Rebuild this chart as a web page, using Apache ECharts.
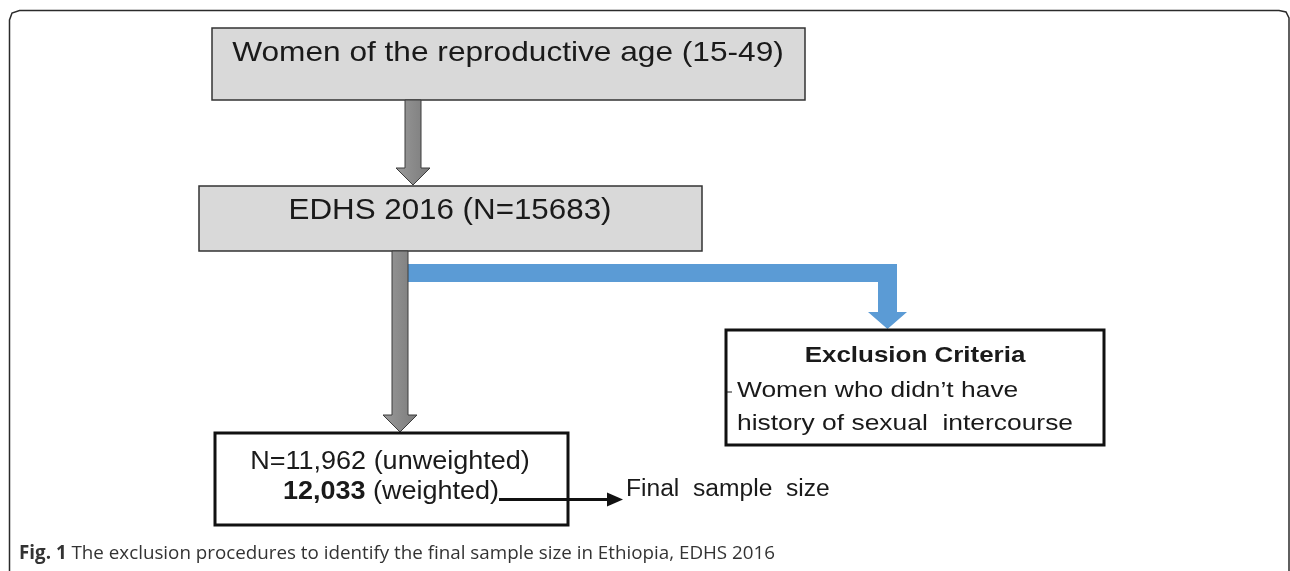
<!DOCTYPE html>
<html>
<head>
<meta charset="utf-8">
<script src="https://cdn.jsdelivr.net/npm/echarts@6/dist/echarts.min.js"></script>
<style>
  html, body { margin: 0; padding: 0; background: #fff; }
  #chart { width: 1290px; height: 571px; }
</style>
</head>
<body>
<div id="chart"></div>
<script>
// flow steps (top to bottom)
var stepLabels = ["Women of the reproductive age (15-49)", "EDHS 2016 (N=15683)"];
var exclusionTitle = "Exclusion Criteria";
var exclusionLines = ["Women who didn\u2019t have", "history of sexual  intercourse"];
var finalCounts = ["N=11,962", "12,033"];
var finalNotes = ["(unweighted)", "(weighted)"];
var finalLabel = "Final  sample  size";
var captionBold = "Fig. 1";
var captionText = " The exclusion procedures to identify the final sample size in Ethiopia, EDHS 2016";

var FONT = "'Liberation Sans', Arial, sans-serif";
var INK = "#1a1a1a";

// block arrow pointing down: centre x, top, tip
function downArrow(cx, top, tip, shaftHalf, headHalf, headLen) {
  var hs = tip - headLen;
  return [
    [cx - shaftHalf, top], [cx + shaftHalf, top], [cx + shaftHalf, hs],
    [cx + headHalf, hs], [cx, tip], [cx - headHalf, hs], [cx - shaftHalf, hs]
  ];
}

function txt(x, y, text, size, sx, extra) {
  var el = {
    type: "text",
    x: x,
    y: y,
    scaleX: sx,
    style: {
      text: text,
      font: (extra && extra.weight ? extra.weight + " " : "") + size + "px " + FONT,
      fill: INK,
      align: (extra && extra.align) || "center",
      textAlign: (extra && extra.align) || "center",
      verticalAlign: "middle",
      textVerticalAlign: "middle"
    }
  };
  if (extra && extra.rich) el.style.rich = extra.rich;
  return el;
}

var grayArrow = {
  fill: new echarts.graphic.LinearGradient(0, 0, 1, 0, [
    { offset: 0, color: "#9a9a9a" },
    { offset: 1, color: "#7a7a7a" }
  ]),
  stroke: "#3c3c3c",
  lineWidth: 1
};

var elements = [];

// outer frame, open at the bottom
elements.push({
  type: "polyline",
  shape: {
    points: [[9.5, 571], [9.5, 20], [12, 13], [19.5, 10.5], [1279, 10.5], [1286, 12], [1289, 18], [1289, 571]]
  },
  style: { stroke: "#2b2b2b", lineWidth: 1.5, fill: null }
});

// box 1
elements.push({
  type: "rect",
  shape: { x: 212, y: 28, width: 593, height: 72 },
  style: { fill: "#d9d9d9", stroke: "#333", lineWidth: 1.5 }
});
elements.push(txt(508, 53, stepLabels[0], 28, 1.13));

// arrow 1
elements.push({
  type: "polygon",
  shape: { points: downArrow(413, 100, 185, 8, 17, 17) },
  style: grayArrow
});

// blue connector to exclusion box (drawn before the gray shaft)
elements.push({
  type: "polygon",
  shape: {
    points: [[400, 264], [897, 264], [897, 312], [907, 312], [887.5, 329],
             [868, 312], [878, 312], [878, 282], [400, 282]]
  },
  style: { fill: "#5b9bd5" }
});

// box 2
elements.push({
  type: "rect",
  shape: { x: 199, y: 186, width: 503, height: 65 },
  style: { fill: "#d9d9d9", stroke: "#333", lineWidth: 1.5 }
});
elements.push(txt(450, 211, stepLabels[1], 29, 1.08));

// arrow 2
elements.push({
  type: "polygon",
  shape: { points: downArrow(400, 251, 432, 8, 17, 17) },
  style: grayArrow
});

// exclusion box
elements.push({
  type: "rect",
  shape: { x: 726, y: 330, width: 378, height: 115 },
  style: { fill: "#fff", stroke: "#111", lineWidth: 3 }
});
elements.push(txt(915, 356, exclusionTitle, 22, 1.18, { weight: "bold" }));
elements.push({
  type: "line",
  shape: { x1: 727, y1: 392, x2: 732, y2: 392 },
  style: { stroke: INK, lineWidth: 1 }
});
elements.push(txt(737, 391, exclusionLines[0], 22, 1.2, { align: "left" }));
elements.push(txt(737, 423.5, exclusionLines[1], 22, 1.2, { align: "left" }));

// final box
elements.push({
  type: "rect",
  shape: { x: 215, y: 433, width: 353, height: 92 },
  style: { fill: "#fff", stroke: "#111", lineWidth: 3 }
});
elements.push(txt(390, 462, finalCounts[0] + " " + finalNotes[0], 25, 1.08));
elements.push(txt(391, 492.5, "{b|" + finalCounts[1] + "} " + finalNotes[1], 25, 1.08, {
  rich: { b: { fontWeight: "bold", fontSize: 25, fontFamily: FONT, fill: INK } }
}));

// arrow to final label
elements.push({
  type: "line",
  shape: { x1: 499, y1: 499.5, x2: 610, y2: 499.5 },
  style: { stroke: "#111", lineWidth: 3 }
});
elements.push({
  type: "polygon",
  shape: { points: [[607, 492.5], [623, 499.5], [607, 506.5]] },
  style: { fill: "#111" }
});
elements.push(txt(626, 490, finalLabel, 23, 1.07, { align: "left" }));

// caption
elements.push({
  type: "text",
  x: 19,
  y: 554,
  style: {
    text: "{b|" + captionBold + "}" + captionText,
    font: "18.8px 'Open Sans', sans-serif",
    fill: "#333",
    align: "left",
    textAlign: "left",
    verticalAlign: "middle",
    textVerticalAlign: "middle",
    rich: { b: { fontWeight: "bold", fontSize: 18.8, fontFamily: "'Open Sans', sans-serif", fill: "#333" } }
  }
});

var chart = echarts.init(document.getElementById("chart"));
chart.setOption({
  animation: false,
  backgroundColor: "#fff",
  graphic: { elements: elements }
});
</script>
</body>
</html>
